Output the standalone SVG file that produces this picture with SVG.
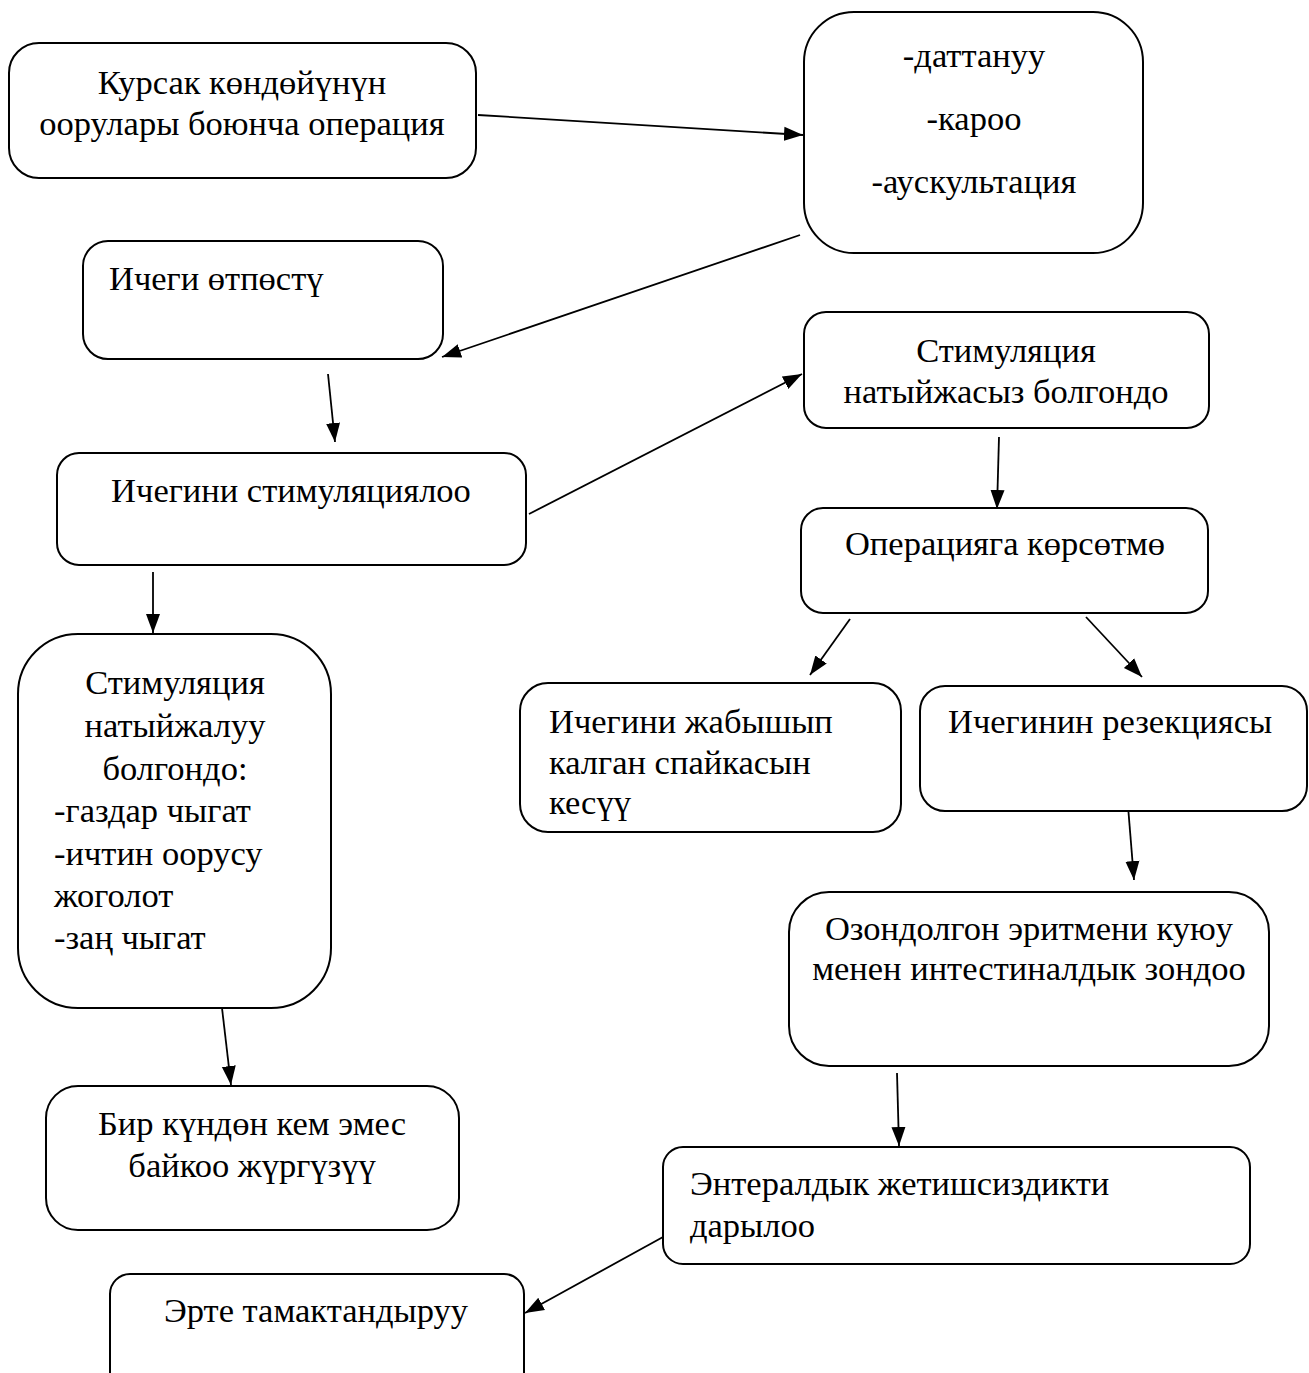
<svg xmlns="http://www.w3.org/2000/svg" width="1309" height="1373" viewBox="0 0 1309 1373">
<style>
.box{fill:#fff;stroke:#000;stroke-width:2}
.t{font-family:"Liberation Serif","Times New Roman","DejaVu Serif",serif;font-size:34.5px;fill:#000}
.c{text-anchor:middle}
.e{stroke:#000;stroke-width:1.8;fill:none;marker-end:url(#ah)}
</style>
<defs>
<marker id="ah" markerUnits="userSpaceOnUse" markerWidth="20" markerHeight="16" viewBox="0 0 20 16" refX="19" refY="8" orient="auto">
<path d="M0,1 L19,8 L0,15 Z" fill="#000"/>
</marker>
</defs>
<rect width="1309" height="1373" fill="#fff"/>
<g id="connectors">
<line class="e" x1="478" y1="115" x2="803" y2="135"/>
<line class="e" x1="800" y1="235" x2="442" y2="357"/>
<line class="e" x1="328" y1="374" x2="335" y2="442"/>
<line class="e" x1="529" y1="514" x2="802" y2="374"/>
<line class="e" x1="153" y1="572" x2="153" y2="633"/>
<line class="e" x1="999" y1="437" x2="997" y2="509"/>
<line class="e" x1="850" y1="619" x2="810" y2="675"/>
<line class="e" x1="1086" y1="617" x2="1142" y2="677"/>
<line class="e" x1="222" y1="1008" x2="231" y2="1085"/>
<line class="e" x1="1128" y1="806" x2="1134" y2="880"/>
<line class="e" x1="897" y1="1073" x2="899" y2="1146"/>
<line class="e" x1="663" y1="1237" x2="525" y2="1313"/>
</g>
<g id="n1"><rect class="box" x="9" y="43" width="467" height="135" rx="30"/>
<text class="t c" x="242" y="94">Курсак көндөйүнүн</text>
<text class="t c" x="242" y="135">оорулары боюнча операция</text></g>
<g id="n2"><rect class="box" x="804" y="12" width="339" height="241" rx="50"/>
<text class="t c" x="974" y="67">-даттануу</text>
<text class="t c" x="974" y="130">-кароо</text>
<text class="t c" x="974" y="193">-аускультация</text></g>
<g id="n3"><rect class="box" x="83" y="241" width="360" height="118" rx="25"/>
<text class="t" x="109" y="290">Ичеги өтпөстү</text></g>
<g id="n4"><rect class="box" x="804" y="312" width="405" height="116" rx="22"/>
<text class="t c" x="1006" y="362">Стимуляция</text>
<text class="t c" x="1006" y="403">натыйжасыз болгондо</text></g>
<g id="n5"><rect class="box" x="57" y="453" width="469" height="112" rx="22"/>
<text class="t c" x="291" y="502">Ичегини стимуляциялоо</text></g>
<g id="n6"><rect class="box" x="801" y="508" width="407" height="105" rx="22"/>
<text class="t c" x="1005" y="555">Операцияга көрсөтмө</text></g>
<g id="n7"><rect class="box" x="18" y="634" width="313" height="374" rx="60"/>
<text class="t c" x="175" y="694">Стимуляция</text>
<text class="t c" x="175" y="737">натыйжалуу</text>
<text class="t c" x="175" y="780">болгондо:</text>
<text class="t" x="54" y="822">-газдар чыгат</text>
<text class="t" x="54" y="865">-ичтин оорусу</text>
<text class="t" x="54" y="907">жоголот</text>
<text class="t" x="54" y="949">-заң чыгат</text></g>
<g id="n8"><rect class="box" x="520" y="683" width="381" height="149" rx="28"/>
<text class="t" x="549" y="733">Ичегини жабышып</text>
<text class="t" x="549" y="774">калган спайкасын</text>
<text class="t" x="549" y="814">кесүү</text></g>
<g id="n9"><rect class="box" x="920" y="686" width="387" height="125" rx="25"/>
<text class="t" x="948" y="733">Ичегинин резекциясы</text></g>
<g id="n10"><rect class="box" x="789" y="892" width="480" height="174" rx="40"/>
<text class="t c" x="1029" y="940">Озондолгон эритмени куюу</text>
<text class="t c" x="1029" y="980">менен интестиналдык зондоо</text></g>
<g id="n11"><rect class="box" x="46" y="1086" width="413" height="144" rx="32"/>
<text class="t c" x="252" y="1135">Бир күндөн кем эмес</text>
<text class="t c" x="252" y="1177">байкоо жүргүзүү</text></g>
<g id="n12"><rect class="box" x="663" y="1147" width="587" height="117" rx="20"/>
<text class="t" x="690" y="1195">Энтералдык жетишсиздикти</text>
<text class="t" x="690" y="1237">дарылоо</text></g>
<g id="n13"><rect class="box" x="110" y="1274" width="414" height="130" rx="20"/>
<text class="t c" x="316" y="1322">Эрте тамактандыруу</text></g>
</svg>
